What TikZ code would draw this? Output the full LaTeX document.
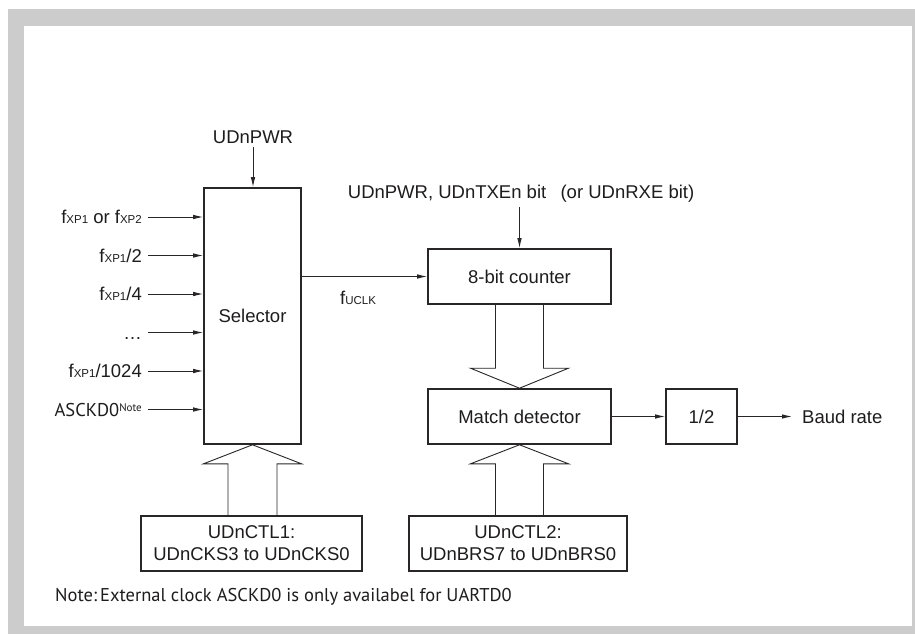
\documentclass[tikz,border=0pt]{standalone}
\usepackage{fontspec}
\setmainfont{Liberation Sans}
\newfontfamily\notefont{PT Sans}
\usetikzlibrary{arrows.meta,calc}
\definecolor{lc}{RGB}{40,38,38}
\definecolor{txt}{RGB}{30,28,28}
\definecolor{framegray}{RGB}{204,204,204}
\newcommand{\subs}[1]{{\fontsize{11.5}{11.5}\selectfont #1}}
\begin{document}
\begin{tikzpicture}[x=1pt,y=-1pt,
  every node/.style={font=\fontsize{18.5}{22}\selectfont, text=txt},
  box/.style={draw=lc, line width=1.6pt, inner sep=0pt, text height=13.2pt, text depth=0pt},
  box2/.style={draw=lc, line width=1.6pt, inner sep=0pt, align=center},
  arr/.style={draw=lc, line width=0.9pt, -{Latex[length=10pt,width=4.5pt]}},
  hol/.style={draw=lc, line width=0.9pt, line join=miter},
  lbl/.style={inner sep=0pt, text height=13.2pt, text depth=0pt}]
\useasboundingbox (0,0) rectangle (915,634);
\fill[framegray] (8,9) rectangle (915,634);
\fill[white] (24,26) rectangle (912,626);

% boxes
\node[box, minimum width=97pt, minimum height=256pt] (sel) at (252.5,316) {Selector};
\node[box, minimum width=183pt, minimum height=55pt] (cnt) at (519.5,276.5) {8-bit counter};
\node[box, minimum width=183pt, minimum height=55pt] (md) at (519.5,416.5) {Match detector};
\node[box, minimum width=71pt, minimum height=55pt] (half) at (701.5,416.5) {1/2};
\node[box2, minimum width=221pt, minimum height=55pt] (ctl1) at (251.5,543.5) {UDnCTL1:\\UDnCKS3 to UDnCKS0};
\node[box2, minimum width=218pt, minimum height=55pt] (ctl2) at (518,543.5) {UDnCTL2:\\UDnBRS7 to UDnBRS0};

% labels
\node[lbl] (pwr) at (253,136.7) {UDnPWR};
\node[lbl, anchor=west] (en) at (347.7,191.7) {UDnPWR, UDnTXEn bit\hspace{14.3pt}(or UDnRXE bit)};
\node[lbl, anchor=west] (uclk) at (340,298) {f\subs{UCLK}};
\node[lbl, anchor=west] (baud) at (802,416.5) {Baud rate};

\node[lbl, anchor=east] (in1) at (142,217) {f\subs{XP1} or f\subs{XP2}};
\node[lbl, anchor=east] (in2) at (142,255.5) {f\subs{XP1}/2};
\node[lbl, anchor=east] (in3) at (142,294) {f\subs{XP1}/4};
\node[lbl, anchor=east] (in4) at (142,332.5) {\dots};
\node[lbl, anchor=east] (in5) at (142,371) {f\subs{XP1}/1024};
\node[lbl, anchor=east] (in6) at (142,409.5) {\notefont ASCKD0\raisebox{5pt}{\fontsize{11}{11}\selectfont Note}};

\node[anchor=base west, inner sep=0pt, font=\notefont\fontsize{18.5}{22}\selectfont] (note) at (55,601) {Note:\,External clock ASCKD0 is only availabel for UARTD0};

% arrows
\draw[arr, shorten <=3.4pt] (pwr.south) -- (pwr.south |- sel.north);
\draw[arr, shorten <=8.4pt] (en.south -| cnt.north) -- (cnt.north);
\foreach \i in {1,...,6} {
  \draw[arr, shorten <=6pt] (in\i.east) -- (in\i.east -| sel.west);
}
\draw[arr] (sel.east |- cnt.west) -- (cnt.west);
\draw[arr] (md.east) -- (half.west);
\draw[arr, shorten >=10pt] (half.east) -- (half.east -| baud.west);

% hollow bus arrows
\draw[hol] ($(cnt.south)+(-24,0)$) -- ($(md.north)+(-24,-20)$) -- ($(md.north)+(-49,-20)$) -- (md.north)
  -- ($(md.north)+(49,-20)$) -- ($(md.north)+(24,-20)$) -- ($(cnt.south)+(24,0)$);

\coordinate (s1) at ($(sel.south)+(-24.5,0)$);
\coordinate (s2) at ($(sel.south)+(24.5,0)$);
\draw[hol] (s1 |- ctl1.north) -- ($(sel.south)+(-24.5,19)$) -- ($(sel.south)+(-49,19)$) -- (sel.south)
  -- ($(sel.south)+(49,19)$) -- ($(sel.south)+(24.5,19)$) -- (s2 |- ctl1.north);

\coordinate (m1) at ($(md.south)+(-24,0)$);
\coordinate (m2) at ($(md.south)+(24,0)$);
\draw[hol] (m1 |- ctl2.north) -- ($(md.south)+(-24,19)$) -- ($(md.south)+(-49,19)$) -- (md.south)
  -- ($(md.south)+(49,19)$) -- ($(md.south)+(24,19)$) -- (m2 |- ctl2.north);
\end{tikzpicture}
\end{document}
